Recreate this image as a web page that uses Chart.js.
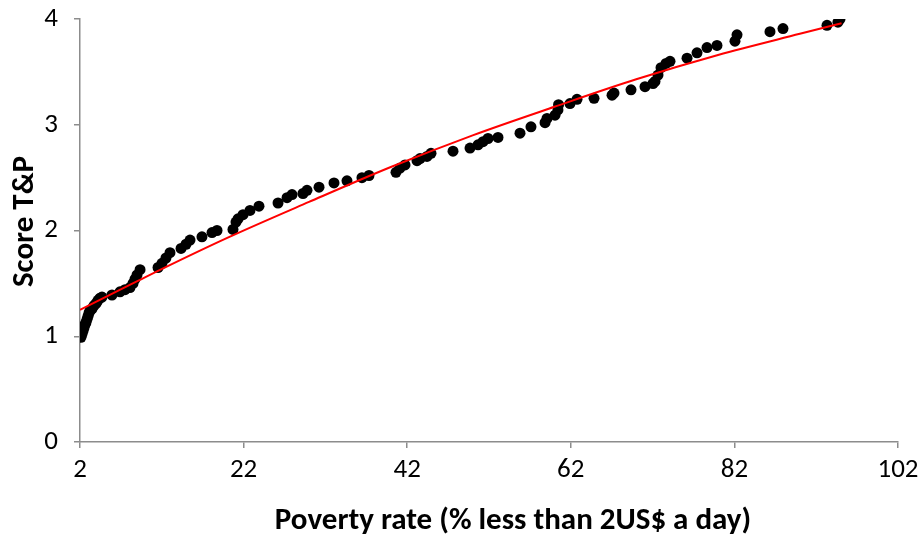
<!DOCTYPE html>
<html>
<head>
<meta charset="utf-8">
<title>Score T&amp;P vs poverty rate</title>
<script src="https://cdn.jsdelivr.net/npm/chart.js@4.4.1/dist/chart.umd.min.js"></script>
<style>
  html, body { margin: 0; padding: 0; background: #fff; }
  #wrap { width: 920px; height: 539px; }
</style>
</head>
<body>
<div id="wrap"><canvas id="chart" width="920" height="539"></canvas></div>
<script>
// values
const povertyRate = [
  2.12, 2.24, 2.37, 2.49, 2.61, 2.73, 2.86, 2.98, 3.10, 3.22, 3.47, 3.71, 3.96, 4.20, 4.45, 4.69,
  5.91, 6.89, 7.50, 8.11, 8.48, 8.72, 8.97, 9.34,
  11.54, 12.02, 12.51, 13.00, 14.35, 14.96, 15.45, 16.91, 18.14, 18.75,
  20.70, 21.07, 21.32, 21.93, 22.78, 23.88, 26.21, 27.31, 27.92, 29.26, 29.75,
  31.22, 33.05, 34.64, 36.47, 37.33, 40.63, 41.12, 41.73, 43.20, 43.57, 44.42, 44.91,
  47.60, 49.68, 50.66, 51.27, 51.88, 53.10, 55.79, 57.13, 58.85, 59.09, 60.07, 60.43, 60.50,
  61.90, 62.76, 64.84, 67.04, 67.28, 69.36, 71.07, 72.05, 72.29, 72.66, 73.03, 73.64, 74.13,
  76.21, 77.43, 78.65, 79.87, 82.07, 82.32, 86.35, 87.94, 93.32, 94.66, 94.91
];
const scoreTP = [
  0.99, 1.02, 1.05, 1.08, 1.11, 1.13, 1.16, 1.19, 1.22, 1.24, 1.26, 1.29, 1.31, 1.34, 1.36, 1.37,
  1.39, 1.42, 1.44, 1.46, 1.50, 1.54, 1.58, 1.63,
  1.65, 1.69, 1.74, 1.79, 1.83, 1.87, 1.91, 1.94, 1.98, 2.00,
  2.01, 2.08, 2.11, 2.15, 2.19, 2.23, 2.26, 2.31, 2.34, 2.35, 2.38,
  2.41, 2.45, 2.47, 2.50, 2.52, 2.55, 2.59, 2.62, 2.66, 2.68, 2.70, 2.73,
  2.75, 2.78, 2.81, 2.84, 2.87, 2.88, 2.92, 2.98, 3.02, 3.06, 3.09, 3.14, 3.19,
  3.20, 3.24, 3.25, 3.28, 3.30, 3.33, 3.36, 3.39, 3.41, 3.47, 3.54, 3.58, 3.60,
  3.63, 3.68, 3.73, 3.75, 3.79, 3.85, 3.88, 3.91, 3.94, 3.97, 4.00
];

// red trend line
const trendX = [2, 10, 20, 30, 40, 50, 60, 70, 80, 90, 95.1];
const trendY = [1.25, 1.56, 1.93, 2.27, 2.60, 2.90, 3.17, 3.43, 3.66, 3.86, 3.96];

const xTicks = [2, 22, 42, 62, 82, 102];
const yTicks = [0, 1, 2, 3, 4];

const xTitle = 'Poverty rate (% less than 2US$ a day)';
const yTitle = 'Score T&P';

const AXIS_GREY = '#8c8c8c';
const FONT = 'Carlito, Calibri, Lato, sans-serif';

const axisTitles = {
  id: 'axisTitles',
  afterDraw(chart) {
    const { ctx, chartArea } = chart;
    ctx.save();
    ctx.font = `bold 31px ${FONT}`;
    ctx.fillStyle = '#000';
    ctx.textAlign = 'center';
    ctx.textBaseline = 'middle';
    ctx.fillText(xTitle, (chartArea.left + chartArea.right) / 2 + 24, 521);
    ctx.translate(25, (chartArea.top + chartArea.bottom) / 2 - 9);
    ctx.rotate(-Math.PI / 2);
    ctx.fillText(yTitle, 0, 0);
    ctx.restore();
  }
};

const tickFont = { family: FONT, size: 27 };

new Chart(document.getElementById('chart'), {
  type: 'scatter',
  data: {
    datasets: [
      {
        label: 'trend',
        data: trendX.map((x, i) => ({ x, y: trendY[i] })),
        showLine: true,
        borderColor: '#ff0000',
        borderWidth: 2,
        pointRadius: 0,
        fill: false,
        cubicInterpolationMode: 'monotone',
        order: 0
      },
      {
        label: 'Score T&P',
        data: povertyRate.map((x, i) => ({ x, y: scoreTP[i] })),
        backgroundColor: '#000',
        borderWidth: 0,
        pointRadius: 5.5,
        order: 1
      }
    ]
  },
  options: {
    responsive: false,
    animation: false,
    layout: { padding: { left: 0, right: 22, top: 19, bottom: 0 } },
    plugins: {
      legend: { display: false },
      tooltip: { enabled: false }
    },
    scales: {
      x: {
        type: 'linear',
        min: 2,
        max: 102,
        afterBuildTicks: scale => { scale.ticks = xTicks.map(value => ({ value })); },
        afterFit: scale => {
          scale.height = 97;
          scale.paddingLeft = 0;
          scale.paddingRight = 0;
        },
        grid: { drawOnChartArea: false, drawTicks: true, tickLength: 6, color: AXIS_GREY, lineWidth: 1.5 },
        border: { display: true, color: AXIS_GREY, width: 1.5 },
        ticks: { color: '#000', font: tickFont, padding: 6, maxRotation: 0 }
      },
      y: {
        type: 'linear',
        min: 0,
        max: 4,
        afterBuildTicks: scale => { scale.ticks = yTicks.map(value => ({ value })); },
        afterFit: scale => {
          scale.width = 80;
          scale.paddingTop = 0;
          scale.paddingBottom = 0;
        },
        grid: { drawOnChartArea: false, drawTicks: true, tickLength: 6, color: AXIS_GREY, lineWidth: 1.5 },
        border: { display: true, color: AXIS_GREY, width: 1.5 },
        ticks: { color: '#000', font: tickFont, padding: 16 }
      }
    }
  },
  plugins: [axisTitles]
});
</script>
</body>
</html>
